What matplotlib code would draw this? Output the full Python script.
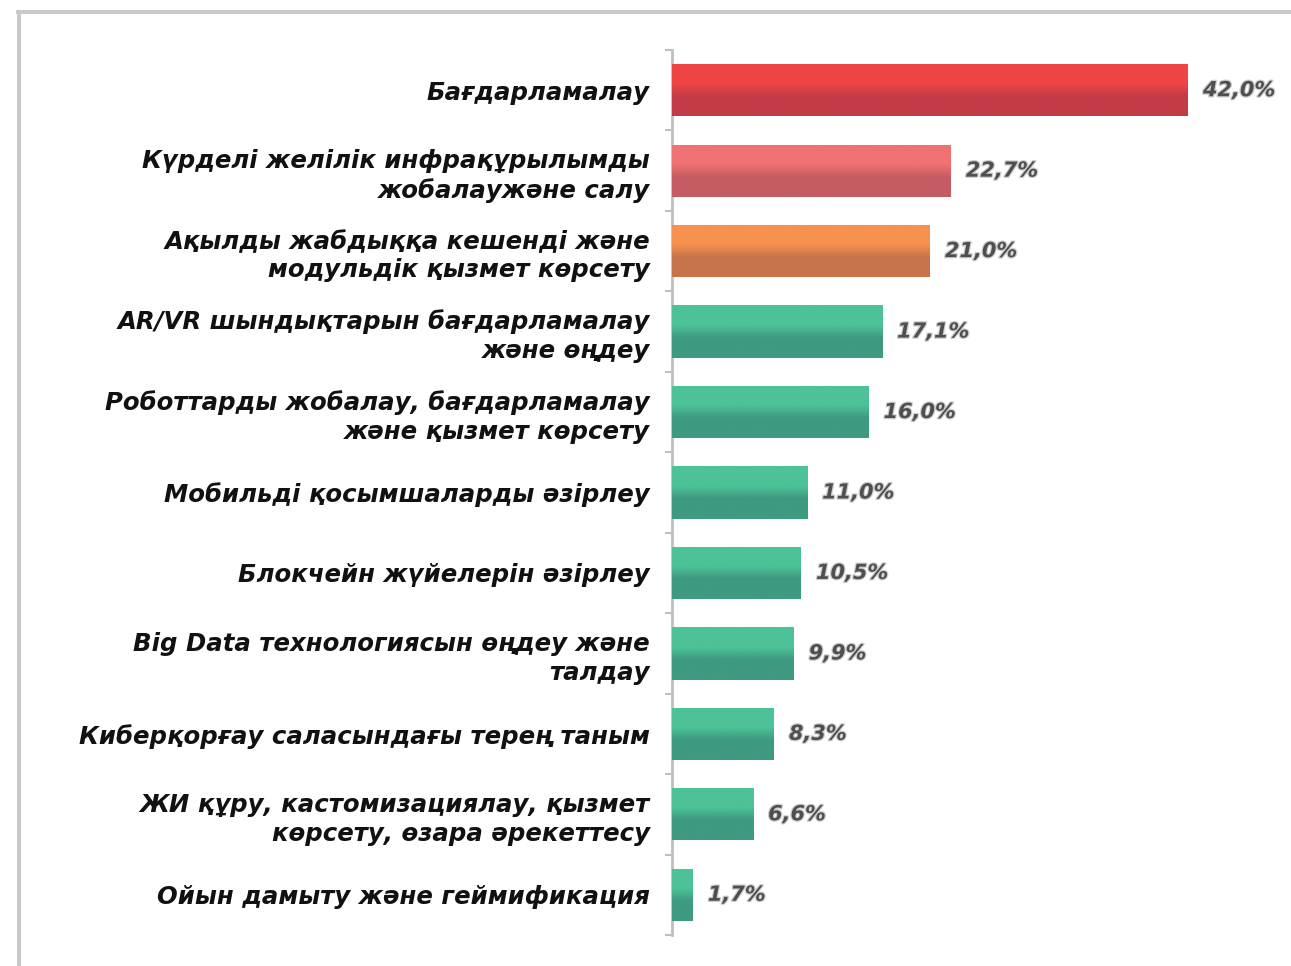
import numpy as np
import matplotlib
matplotlib.use("Agg")
import matplotlib.pyplot as plt
from matplotlib.colors import LinearSegmentedColormap
from matplotlib.lines import Line2D
import matplotlib.patheffects as pe

# --- data ---
categories = [
    "Бағдарламалау",
    "Күрделі желілік инфрақұрылымды\nжобалаужәне салу",
    "Ақылды жабдыққа кешенді және\nмодульдік қызмет көрсету",
    "AR/VR шындықтарын бағдарламалау\nжәне өңдеу",
    "Роботтарды жобалау, бағдарламалау\nжәне қызмет көрсету",
    "Мобильді қосымшаларды әзірлеу",
    "Блокчейн жүйелерін әзірлеу",
    "Big Data технологиясын өңдеу және\nталдау",
    "Киберқорғау саласындағы терең таным",
    "ЖИ құру, кастомизациялау, қызмет\nкөрсету, өзара әрекеттесу",
    "Ойын дамыту және геймификация",
]
values = [42.0, 22.7, 21.0, 17.1, 16.0, 11.0, 10.5, 9.9, 8.3, 6.6, 1.7]
value_labels = ["42,0%", "22,7%", "21,0%", "17,1%", "16,0%", "11,0%",
                "10,5%", "9,9%", "8,3%", "6,6%", "1,7%"]

# (top colour, bottom colour) of each bar's vertical gradient
RED = ("#ef4545", "#c33b46")
PINK = ("#f07272", "#c55c64")
ORANGE = ("#f6914f", "#c8734a")
GREEN = ("#4dc297", "#3e9a80")
bar_colors = [RED, PINK, ORANGE] + [GREEN] * 8

W, H = 1291, 966
fig = plt.figure(figsize=(W / 100, H / 100), dpi=100)
fig.patch.set_facecolor("white")

ax = fig.add_axes([672 / W, 1 - 935 / H, 1 - 672 / W, (935 - 50) / H])

y = np.arange(len(categories))
bars = ax.barh(y, values, height=0.65, color=[c[1] for c in bar_colors],
               linewidth=0, zorder=2)

# vertical gradient over every bar, clipped to the bar rectangle
grad = np.linspace(0, 1, 100).reshape(-1, 1)
for patch, (top, bottom) in zip(bars.patches, bar_colors):
    cmap = LinearSegmentedColormap.from_list(
        "g", [(0, top), (0.38, top), (0.62, bottom), (1, bottom)])
    x0, y0, x1, y1 = patch.get_bbox().extents
    im = ax.imshow(grad, cmap=cmap, aspect="auto", origin="upper",
                   extent=(x0, x1, y1, y0), zorder=3, interpolation="bilinear")
    im.set_clip_path(patch)

for yi, v, lab in zip(y, values, value_labels):
    ax.annotate(lab, (v, yi), xytext=(15, 0), textcoords="offset pixels",
                ha="left", va="center", fontsize=15, fontweight="bold",
                fontstyle="italic", color="#4f4f4f",
                path_effects=[pe.Stroke(linewidth=1.8, foreground="#cfcfcf"),
                              pe.Normal()])

ax.set_xlim(0, (W - 672) / ((1188 - 672) / 42.0))
ax.set_ylim(len(categories) - 0.5, -0.5)

# labels at bar centres, tick marks on the category boundaries
ax.set_yticks(y)
ax.set_yticklabels(categories, fontsize=17.6, fontweight="bold",
                   fontstyle="italic", color="#111111", linespacing=1.25)
ax.tick_params(axis="y", which="major", length=0, pad=16)
ax.set_yticks(np.arange(len(categories) + 1) - 0.5, minor=True)
ax.tick_params(axis="y", which="minor", length=5, width=1.5, color="#bfbfbf")
ax.set_xticks([])

for side in ("top", "right", "bottom"):
    ax.spines[side].set_visible(False)
ax.spines["left"].set_color("#bfbfbf")
ax.spines["left"].set_linewidth(2)
ax.set_facecolor("none")

# light grey frame along the top and left edge
fig.add_artist(Line2D([18 / W, 1], [1 - 11.5 / H] * 2, transform=fig.transFigure,
                      color="#c8c8c8", linewidth=2.8))
fig.add_artist(Line2D([18.5 / W] * 2, [0, 1 - 11.5 / H], transform=fig.transFigure,
                      color="#c8c8c8", linewidth=2.8))

fig.savefig("out.png", dpi=100)
